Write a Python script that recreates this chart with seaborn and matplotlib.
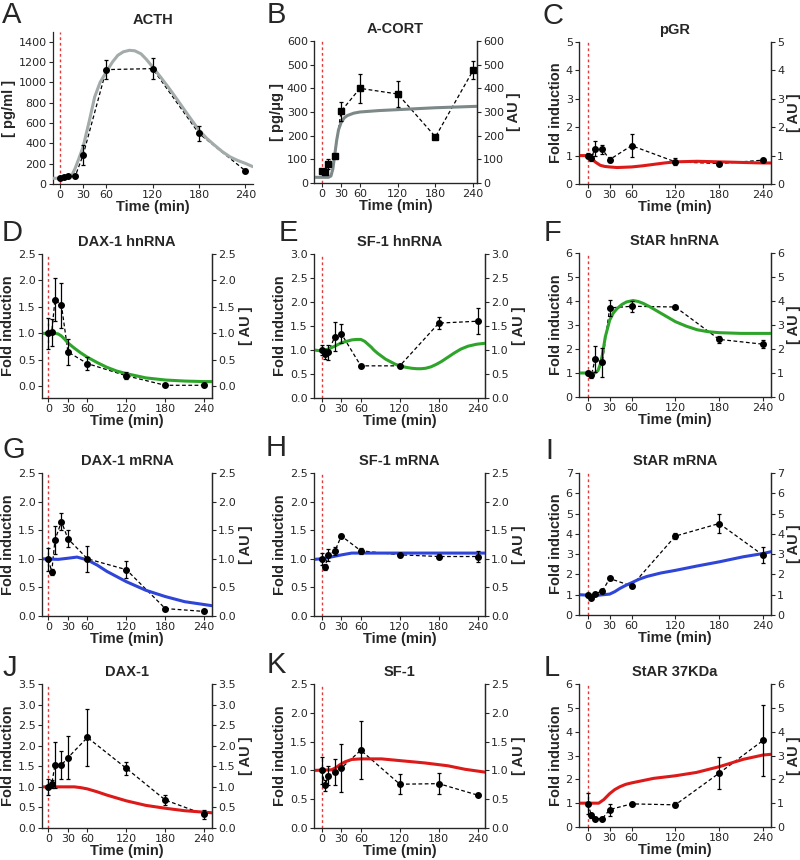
import numpy as np
import matplotlib
matplotlib.use('Agg')
import matplotlib.pyplot as plt
import seaborn as sns

sns.set_style('ticks')
plt.rcParams['font.family'] = ['DejaVu Sans']
plt.rcParams['xtick.labelsize'] = 8
plt.rcParams['ytick.labelsize'] = 8

# time points of the measurements (min)
time_pts = [0, 5, 10, 20, 30, 60, 120, 180, 240]
xticks = [0, 30, 60, 120, 180, 240]

# A  ACTH
acth_mean = [55, 65, 78, 82, 285, 1125, 1135, 497, 131]
acth_err = [10, 10, 12, 10, 95, 90, 100, 70, 15]
acth_fit_t = [-10, 0, 10, 13, 16, 20, 25, 30, 38, 45, 52, 60, 68, 75, 82, 90, 97, 105, 112, 120, 130, 140, 150, 160, 170, 180, 190, 200, 210, 220, 230, 240, 250]
acth_fit_y = [56, 57, 60, 70, 95, 160, 260, 366, 620, 857, 1000, 1102, 1200, 1266, 1300, 1315, 1310, 1280, 1225, 1151, 1055, 955, 850, 742, 635, 530, 450, 383, 320, 268, 232, 203, 170]

# B  A-CORT
cort_mean = [52, 45, 81, 115, 303, 400, 376, 195, 477]
cort_err = [5, 5, 20, 8, 40, 60, 55, 5, 37]
cort_fit_t = [-13, 10, 14, 17, 20, 23, 26, 30, 35, 40, 50, 60, 90, 120, 180, 246]
cort_fit_y = [24, 24, 30, 60, 120, 180, 225, 255, 275, 285, 295, 300, 306, 310, 318, 324]

# C  pGR
pgr_mean = [1.0, 0.93, 1.25, 1.22, 0.86, 1.35, 0.78, 0.72, 0.84]
pgr_err = [0.1, 0.12, 0.25, 0.17, 0.1, 0.4, 0.12, 0.05, 0.05]
pgr_fit_t = [-12, 0, 3, 6, 10, 17, 23, 30, 40, 60, 75, 90, 105, 120, 150, 180, 240, 251]
pgr_fit_y = [1.0, 1.0, 0.97, 0.9, 0.78, 0.66, 0.62, 0.6, 0.58, 0.6, 0.64, 0.69, 0.74, 0.78, 0.8, 0.78, 0.74, 0.74]

# D  DAX-1 hnRNA
daxhn_mean = [1.0, 1.02, 1.64, 1.53, 0.65, 0.43, 0.2, 0.02, 0.02]
daxhn_err = [0.3, 0.25, 0.4, 0.42, 0.25, 0.12, 0.07, 0.01, 0.01]
daxhn_fit_t = [-10, 10, 15, 20, 25, 30, 40, 50, 60, 75, 90, 105, 120, 150, 180, 210, 240, 252]
daxhn_fit_y = [1.0, 1.0, 0.99, 0.95, 0.89, 0.82, 0.72, 0.63, 0.55, 0.45, 0.36, 0.29, 0.24, 0.16, 0.12, 0.1, 0.09, 0.09]

# E  SF-1 hnRNA
sf1hn_mean = [1.0, 0.92, 0.95, 1.28, 1.34, 0.67, 0.67, 1.56, 1.6]
sf1hn_err = [0.1, 0.1, 0.15, 0.3, 0.2, 0.02, 0.02, 0.12, 0.27]
sf1hn_fit_t = [-12, 0, 10, 20, 30, 38, 46, 53, 60, 66, 71, 76, 80, 86, 92, 98, 105, 112, 120, 129, 138, 146, 153, 160, 168, 176, 184, 194, 204, 214, 225, 238, 251]
sf1hn_fit_y = [1.0, 0.98, 1.02, 1.08, 1.15, 1.18, 1.21, 1.22, 1.22, 1.18, 1.12, 1.06, 1.0, 0.93, 0.87, 0.81, 0.76, 0.71, 0.67, 0.64, 0.62, 0.61, 0.61, 0.62, 0.65, 0.7, 0.76, 0.85, 0.94, 1.02, 1.08, 1.12, 1.14]

# F  StAR hnRNA
starhn_mean = [1.0, 0.9, 1.58, 1.44, 3.71, 3.78, 3.75, 2.4, 2.2]
starhn_err = [0.1, 0.1, 0.55, 0.6, 0.33, 0.23, 0.05, 0.15, 0.17]
starhn_fit_t = [-12, 10, 14, 17, 20, 24, 30, 35, 40, 47, 53, 62, 69, 76, 85, 94, 107, 120, 135, 150, 165, 180, 210, 251]
starhn_fit_y = [1.0, 1.0, 1.1, 1.35, 1.75, 2.5, 3.2, 3.5, 3.68, 3.86, 3.96, 4.02, 3.98, 3.9, 3.76, 3.6, 3.37, 3.14, 2.95, 2.8, 2.72, 2.68, 2.65, 2.65]

# G  DAX-1 mRNA
daxm_mean = [0.99, 0.77, 1.33, 1.65, 1.35, 1.0, 0.81, 0.13, 0.08]
daxm_err = [0.2, 0.06, 0.25, 0.15, 0.15, 0.23, 0.15, 0.02, 0.02]
daxm_fit_t = [-10, 15, 30, 44, 60, 75, 90, 105, 120, 150, 180, 210, 252]
daxm_fit_y = [1.0, 0.99, 1.01, 1.03, 0.98, 0.89, 0.78, 0.69, 0.6, 0.45, 0.34, 0.25, 0.18]

# H  SF-1 mRNA
sf1m_mean = [1.0, 0.86, 1.07, 1.13, 1.4, 1.14, 1.07, 1.04, 1.04]
sf1m_err = [0.1, 0.05, 0.1, 0.07, 0.04, 0.05, 0.03, 0.05, 0.1]
sf1m_fit_t = [-12, 0, 18, 31, 46, 60, 251]
sf1m_fit_y = [0.99, 1.0, 1.04, 1.07, 1.1, 1.1, 1.1]

# I  StAR mRNA
starm_mean = [1.0, 0.82, 1.05, 1.18, 1.8, 1.43, 3.89, 4.51, 2.95]
starm_err = [0.1, 0.05, 0.05, 0.1, 0.05, 0.05, 0.15, 0.45, 0.4]
starm_fit_t = [-12, 10, 30, 37, 44, 52, 60, 70, 81, 100, 120, 149, 180, 213, 240, 251]
starm_fit_y = [1.0, 0.96, 1.03, 1.15, 1.31, 1.46, 1.59, 1.76, 1.9, 2.07, 2.2, 2.41, 2.62, 2.87, 3.03, 3.12]

# J  DAX-1 protein
daxp_mean = [1.0, 1.07, 1.53, 1.53, 1.71, 2.2, 1.45, 0.68, 0.33]
daxp_err = [0.2, 0.1, 0.55, 0.35, 0.53, 0.7, 0.15, 0.12, 0.1]
daxp_fit_t = [-10, 40, 50, 60, 75, 90, 105, 120, 150, 180, 210, 252]
daxp_fit_y = [1.0, 1.0, 0.98, 0.95, 0.88, 0.8, 0.73, 0.66, 0.55, 0.48, 0.42, 0.37]

# K  SF-1 protein
sf1p_mean = [1.0, 0.74, 0.91, 0.97, 1.04, 1.35, 0.76, 0.77, 0.57]
sf1p_err = [0.23, 0.1, 0.17, 0.22, 0.42, 0.5, 0.17, 0.18, 0.02]
sf1p_fit_t = [-12, 15, 22, 28, 36, 46, 60, 92, 120, 158, 194, 220, 251]
sf1p_fit_y = [1.0, 1.01, 1.05, 1.1, 1.15, 1.19, 1.2, 1.2, 1.17, 1.13, 1.08, 1.02, 0.97]

# L  StAR 37KDa
starp_mean = [0.98, 0.49, 0.35, 0.35, 0.73, 0.97, 0.93, 2.26, 3.63]
starp_err = [0.45, 0.1, 0.05, 0.05, 0.25, 0.05, 0.1, 0.68, 1.48]
starp_fit_t = [-12, 15, 22, 30, 37, 44, 52, 60, 90, 120, 149, 180, 213, 240, 251]
starp_fit_y = [1.0, 1.0, 1.15, 1.4, 1.57, 1.69, 1.79, 1.85, 2.04, 2.15, 2.29, 2.53, 2.84, 3.02, 3.05]

GRAY_A = '#a3abab'
GRAY_B = '#7d8888'
GREEN = '#2ea52a'
BLUE = '#2f45d8'
RED = '#dc1a1a'

W, H = 800, 860
# letter, title, mean, err, fit t, fit y, colour, ylim, ytick step, fmt, ylabel, twin,
# axes box (l, r, t, b px), xlim, letter position (x, y px)
panels = [
    ('A', 'ACTH', acth_mean, acth_err, acth_fit_t, acth_fit_y, GRAY_A, (0, 1495), 200, '%d', '[ pg/ml ]', False, (53, 253, 32, 184), (-9, 250), (2, 1)),
    ('B', 'A-CORT', cort_mean, cort_err, cort_fit_t, cort_fit_y, GRAY_B, (0, 600), 100, '%d', '[ pg/\u03bcg ]', True, (314, 477, 41, 183), (-13, 246), (267, 1)),
    ('C', 'pGR', pgr_mean, pgr_err, pgr_fit_t, pgr_fit_y, RED, (0, 5), 1, '%d', 'Fold induction', True, (579, 771, 42, 184), (-12, 251), (543, 2)),
    ('D', 'DAX-1 hnRNA', daxhn_mean, daxhn_err, daxhn_fit_t, daxhn_fit_y, GREEN, (-0.22, 2.5), 0.5, '%.1f', 'Fold induction', True, (42, 212, 254, 398), (-10, 252), (2, 219)),
    ('E', 'SF-1 hnRNA', sf1hn_mean, sf1hn_err, sf1hn_fit_t, sf1hn_fit_y, GREEN, (0, 3), 0.5, '%.1f', 'Fold induction', True, (314, 485, 254, 398), (-12, 251), (279, 219)),
    ('F', 'StAR hnRNA', starhn_mean, starhn_err, starhn_fit_t, starhn_fit_y, GREEN, (0, 6), 1, '%d', 'Fold induction', True, (579, 771, 253, 397), (-12, 251), (544, 219)),
    ('G', 'DAX-1 mRNA', daxm_mean, daxm_err, daxm_fit_t, daxm_fit_y, BLUE, (0, 2.5), 0.5, '%.1f', 'Fold induction', True, (42, 212, 473, 616), (-10, 252), (2, 436)),
    ('H', 'SF-1 mRNA', sf1m_mean, sf1m_err, sf1m_fit_t, sf1m_fit_y, BLUE, (0, 2.5), 0.5, '%.1f', 'Fold induction', True, (314, 485, 473, 616), (-12, 251), (266, 434)),
    ('I', 'StAR mRNA', starm_mean, starm_err, starm_fit_t, starm_fit_y, BLUE, (0, 7), 1, '%d', 'Fold induction', True, (579, 771, 473, 615), (-12, 251), (545, 437)),
    ('J', 'DAX-1', daxp_mean, daxp_err, daxp_fit_t, daxp_fit_y, RED, (0, 3.5), 0.5, '%.1f', 'Fold induction', True, (42, 212, 684, 828), (-10, 252), (3, 654)),
    ('K', 'SF-1', sf1p_mean, sf1p_err, sf1p_fit_t, sf1p_fit_y, RED, (0, 2.5), 0.5, '%.1f', 'Fold induction', True, (314, 485, 684, 828), (-12, 251), (267, 651)),
    ('L', 'StAR 37KDa', starp_mean, starp_err, starp_fit_t, starp_fit_y, RED, (0, 6), 1, '%d', 'Fold induction', True, (579, 771, 684, 827), (-12, 251), (544, 654)),
]

bold = dict(family='Liberation Sans', weight='bold', size=10.5)

fig = plt.figure(figsize=(W / 100, H / 100), dpi=100)

for (letter, title, mean, err, ft, fy, col, ylim, step, fmt, ylab, twin,
     box, xlim, lpos) in panels:
    l, r, t, b = box
    ax = fig.add_axes([l / W, 1 - b / H, (r - l) / W, (b - t) / H])
    ax.axvline(0, color='#e03a3a', lw=1, dashes=(2, 2), zorder=1)
    # dashed connection of the measurements
    sns.lineplot(x=time_pts, y=mean, ax=ax, color='black', lw=0.9,
                 dashes=False, linestyle=(0, (3, 2)), zorder=2)
    # model simulation
    sns.lineplot(x=ft, y=fy, ax=ax, color=col, lw=2.2, sort=False, zorder=3)
    ax.errorbar(time_pts, mean, yerr=err, fmt='s' if letter == 'B' else 'o',
                ms=4, color='black', ecolor='black', elinewidth=0.9,
                capsize=1.3, capthick=0.9, zorder=4)
    ax.set_xlim(*xlim)
    ax.set_ylim(*ylim)
    yt = np.arange(0, ylim[1] + 1e-6, step)
    ax.set_xticks(xticks)
    ax.set_yticks(yt)
    ax.set_yticklabels([fmt % v for v in yt])
    ax.tick_params(length=3, width=0.8, pad=1.5)
    ax.set_xlabel('Time (min)', fontdict=bold, labelpad=0)
    ax.set_ylabel(ylab, fontdict=bold, labelpad=2)
    ax.set_title(title, fontdict=bold, pad=6)
    for s in ax.spines.values():
        s.set_linewidth(0.9)
    ax.spines['top'].set_visible(False)
    if twin:
        ax2 = ax.twinx()
        ax2.set_ylim(*ylim)
        ax2.set_yticks(yt)
        ax2.set_yticklabels([fmt % v for v in yt])
        ax2.tick_params(length=3, width=0.8, pad=1.5)
        ax2.set_ylabel('[ AU ]', fontdict=bold, labelpad=2)
        ax2.spines['top'].set_visible(False)
        ax2.spines['right'].set_linewidth(0.9)
    else:
        ax.spines['right'].set_visible(False)
    fig.text(lpos[0] / W, 1 - lpos[1] / H, letter,
             family='Liberation Sans', size=21, va='top', ha='left')

fig.savefig('out.png', dpi=100)
